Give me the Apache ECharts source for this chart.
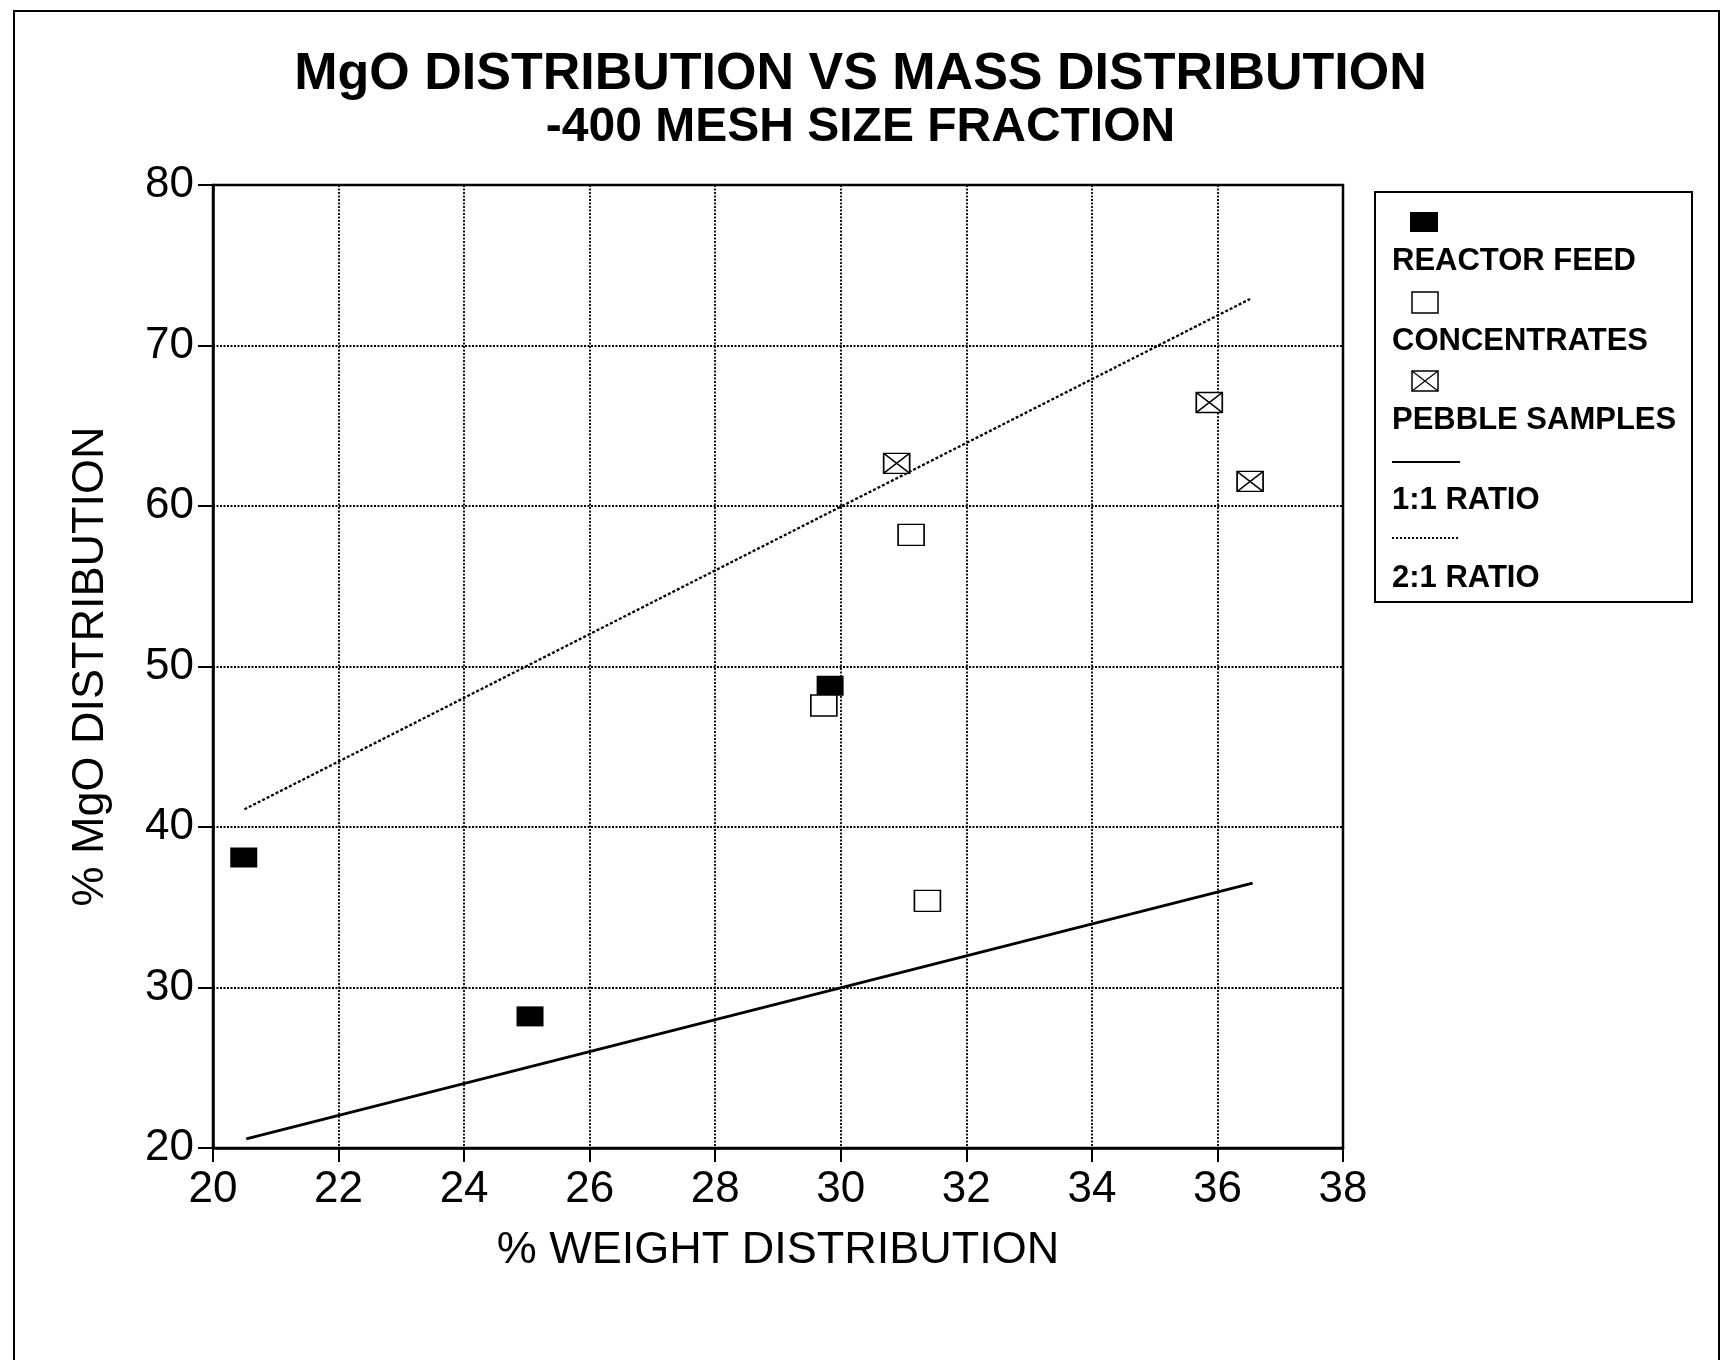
<!DOCTYPE html>
<html>
<head>
<meta charset="utf-8">
<style>
  html, body { margin: 0; padding: 0; background: #fff; }
  #chart { width: 1721px; height: 1362px; }
</style>
<script src="https://cdn.jsdelivr.net/npm/echarts@6/dist/echarts.min.js"></script>
</head>
<body>
<div id="chart"></div>
<script>
// ---- Data ----
const titleMain = 'MgO DISTRIBUTION VS MASS DISTRIBUTION';
const titleSub = '-400 MESH SIZE FRACTION';
const xAxisName = '% WEIGHT DISTRIBUTION';
const yAxisName = '% MgO DISTRIBUTION';
const seriesNames = ['REACTOR FEED', 'CONCENTRATES', 'PEBBLE SAMPLES', '1:1 RATIO', '2:1 RATIO'];

const xRange = [20, 38, 2];   // min, max, interval
const yRange = [20, 80, 10];

const reactorFeed   = [[20.49, 38.1], [25.05, 28.2], [29.83, 48.8]];
const concentrates  = [[29.73, 47.57], [31.12, 58.2], [31.38, 35.4]];
const pebbleSamples = [[30.89, 62.66], [35.87, 66.45], [36.52, 61.53]];
const ratio11 = [[20.53, 20.57], [36.56, 36.5]];
const ratio21 = [[20.5, 41.1], [36.52, 72.9]];

// ---- Chart ----
const FONT = '"Liberation Sans", Arial, Helvetica, sans-serif';
const chart = echarts.init(document.getElementById('chart'), null, { renderer: 'canvas' });

const pebblePath = 'path://M0 0H26V20H0Z M0 0L26 20 M26 0L0 20';
const LEG_FONT = 'bold 31px ' + FONT;

const legendGraphic = [
  { type: 'rect', shape: { x: 1375, y: 192, width: 317, height: 410 },
    style: { fill: 'none', stroke: '#000', lineWidth: 2 } },
  { type: 'rect', shape: { x: 1410, y: 212, width: 28, height: 20 }, style: { fill: '#000' } },
  { type: 'text', x: 1392, y: 261, style: { text: seriesNames[0], font: LEG_FONT, fill: '#000', verticalAlign: 'middle', align: 'left' } },
  { type: 'rect', shape: { x: 1412, y: 292, width: 26, height: 21 }, style: { fill: '#fff', stroke: '#000', lineWidth: 1.5 } },
  { type: 'text', x: 1392, y: 341, style: { text: seriesNames[1], font: LEG_FONT, fill: '#000', verticalAlign: 'middle', align: 'left' } },
  { type: 'rect', shape: { x: 1412, y: 371, width: 26, height: 20 }, style: { fill: '#fff', stroke: '#000', lineWidth: 1.5 } },
  { type: 'line', shape: { x1: 1412, y1: 371, x2: 1438, y2: 391 }, style: { stroke: '#000', lineWidth: 1.2 } },
  { type: 'line', shape: { x1: 1438, y1: 371, x2: 1412, y2: 391 }, style: { stroke: '#000', lineWidth: 1.2 } },
  { type: 'text', x: 1392, y: 420, style: { text: seriesNames[2], font: LEG_FONT, fill: '#000', verticalAlign: 'middle', align: 'left' } },
  { type: 'line', shape: { x1: 1392, y1: 462, x2: 1460, y2: 462 }, style: { stroke: '#000', lineWidth: 2 } },
  { type: 'text', x: 1392, y: 500, style: { text: seriesNames[3], font: LEG_FONT, fill: '#000', verticalAlign: 'middle', align: 'left' } },
  { type: 'line', shape: { x1: 1392, y1: 538, x2: 1458, y2: 538 }, style: { stroke: '#000', lineWidth: 2, lineDash: [2, 2] } },
  { type: 'text', x: 1392, y: 578, style: { text: seriesNames[4], font: LEG_FONT, fill: '#000', verticalAlign: 'middle', align: 'left' } },
  // outer page frame
  { type: 'polyline', shape: { points: [[14, 1360], [14, 11], [1719, 11], [1719, 1360]] },
    style: { fill: 'none', stroke: '#000', lineWidth: 2 } }
];

const gridLine = { color: '#000', width: 1.8, type: [2, 1.5] };

const option = {
  backgroundColor: '#fff',
  animation: false,
  title: [
    { text: titleMain, left: 'center', top: 44,
      textStyle: { fontFamily: FONT, fontWeight: 'bold', fontSize: 52, color: '#000', lineHeight: 52 } },
    { text: titleSub, left: 'center', top: 99,
      textStyle: { fontFamily: FONT, fontWeight: 'bold', fontSize: 48, color: '#000', lineHeight: 48 } }
  ],
  grid: { left: 213, top: 185, right: 378, bottom: 214, show: true, borderColor: '#000', borderWidth: 2.5, backgroundColor: 'transparent' },
  xAxis: {
    type: 'value', min: xRange[0], max: xRange[1], interval: xRange[2],
    name: xAxisName, nameLocation: 'middle', nameGap: 80,
    nameTextStyle: { fontFamily: FONT, fontSize: 45, color: '#000' },
    axisLine: { show: true, lineStyle: { color: '#000', width: 2.5 } },
    axisTick: { show: true, inside: false, length: 14, lineStyle: { color: '#000', width: 2 } },
    axisLabel: { fontFamily: FONT, fontSize: 44, color: '#000', margin: 20 },
    splitLine: { show: true, lineStyle: gridLine }
  },
  yAxis: {
    type: 'value', min: yRange[0], max: yRange[1], interval: yRange[2],
    name: yAxisName, nameLocation: 'middle', nameGap: 100, nameRotate: 90,
    nameTextStyle: { fontFamily: FONT, fontSize: 45, color: '#000' },
    axisLine: { show: true, lineStyle: { color: '#000', width: 2.5 } },
    axisTick: { show: true, inside: false, length: 15, lineStyle: { color: '#000', width: 2 } },
    axisLabel: { fontFamily: FONT, fontSize: 44, color: '#000', margin: 19 },
    splitLine: { show: true, lineStyle: gridLine }
  },
  series: [
    { name: seriesNames[3], type: 'line', data: ratio11, symbol: 'none', z: 3,
      lineStyle: { color: '#000', width: 2.8, type: 'solid' } },
    { name: seriesNames[4], type: 'line', data: ratio21, symbol: 'none', z: 3,
      lineStyle: { color: '#000', width: 2.3, type: [3, 2] } },
    { name: seriesNames[0], type: 'scatter', data: reactorFeed, symbol: 'rect', symbolSize: [27, 20], z: 4,
      itemStyle: { color: '#000', borderColor: '#000', borderWidth: 0, opacity: 1 } },
    { name: seriesNames[1], type: 'scatter', data: concentrates, symbol: 'rect', symbolSize: [26, 21], z: 5,
      itemStyle: { color: '#fff', borderColor: '#000', borderWidth: 1.5, opacity: 1 } },
    { name: seriesNames[2], type: 'scatter', data: pebbleSamples, symbol: pebblePath, symbolSize: [26, 20], z: 5,
      itemStyle: { color: '#fff', borderColor: '#000', borderWidth: 1.5, opacity: 1 } }
  ],
  graphic: legendGraphic
};
chart.setOption(option);
</script>
</body>
</html>
